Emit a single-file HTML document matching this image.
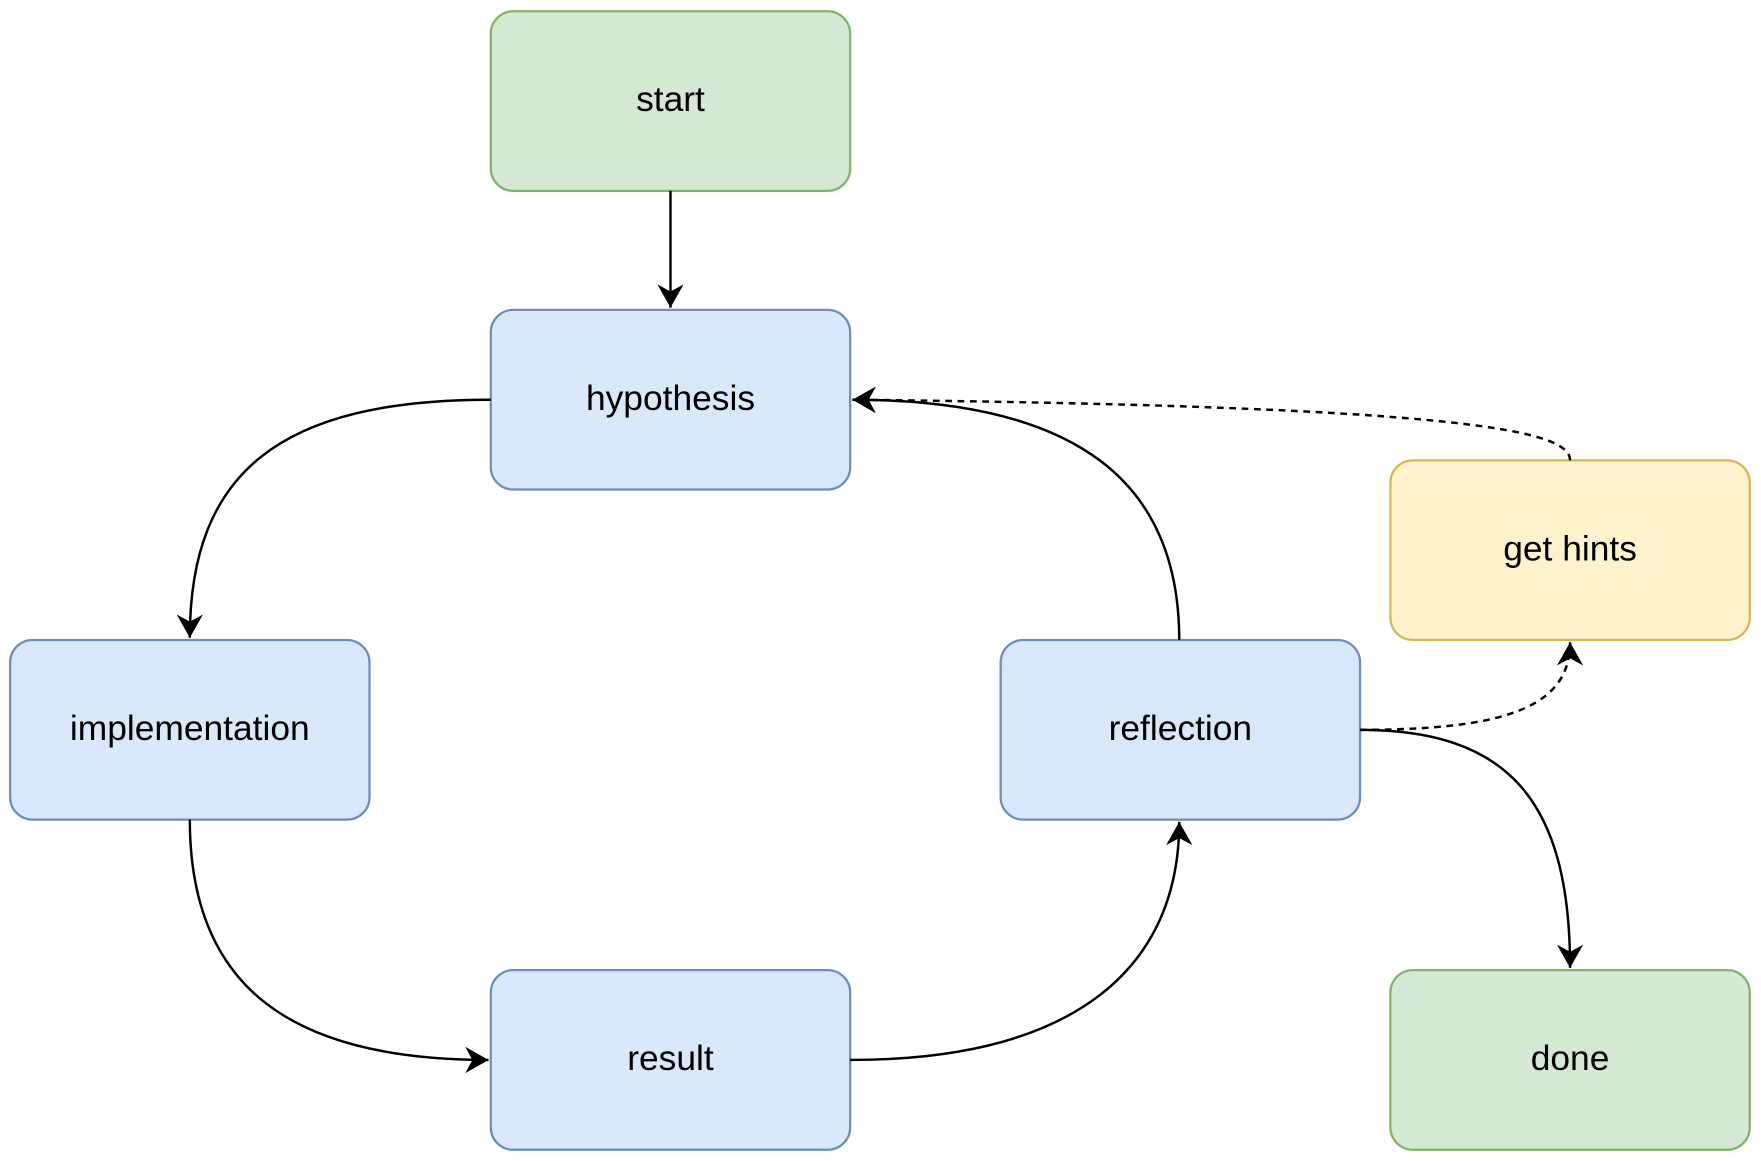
<!DOCTYPE html>
<html><head><meta charset="utf-8"><style>html,body{margin:0;padding:0;background:#fff}svg{display:block}</style></head>
<body>
<svg width="1761" height="1161" viewBox="0 0 1568 1034" preserveAspectRatio="none" xmlns="http://www.w3.org/2000/svg">
<defs>
<marker id="a" viewBox="0 0 10 10" refX="9" refY="5" markerWidth="9" markerHeight="9" markerUnits="userSpaceOnUse" orient="auto" overflow="visible">
<path d="M-14,-8 L9,5 L-14,18 L-7,5 Z" fill="#000"/>
</marker>
</defs>
<g font-family="Liberation Sans, Arial, sans-serif" font-size="31.5" text-anchor="middle" stroke-width="2">
<rect x="437" y="10" width="320" height="160" rx="20" fill="#d5e8d4" stroke="#82b366"/>
<rect x="437" y="276" width="320" height="160" rx="20" fill="#dae8fc" stroke="#6c8ebf"/>
<rect x="9" y="570" width="320" height="160" rx="20" fill="#dae8fc" stroke="#6c8ebf"/>
<rect x="891" y="570" width="320" height="160" rx="20" fill="#dae8fc" stroke="#6c8ebf"/>
<rect x="1238" y="410" width="320" height="160" rx="20" fill="#fff2cc" stroke="#d6b656"/>
<rect x="437" y="864" width="320" height="160" rx="20" fill="#dae8fc" stroke="#6c8ebf"/>
<rect x="1238" y="864" width="320" height="160" rx="20" fill="#d5e8d4" stroke="#82b366"/>
<g fill="#000" stroke="none">
<text x="597" y="99">start</text>
<text x="597" y="365">hypothesis</text>
<text x="169" y="659">implementation</text>
<text x="1051" y="659">reflection</text>
<text x="1398" y="499">get hints</text>
<text x="597" y="953">result</text>
<text x="1398" y="953">done</text>
</g>
<g fill="none" stroke="#000" stroke-width="2.2">
<path d="M597,170 L597,274" marker-end="url(#a)"/>
<path d="M437,356 C250,356 169,420 169,568" marker-end="url(#a)"/>
<path d="M169,730 C169,880 260,944 435,944" marker-end="url(#a)"/>
<path d="M757,944 C960,944 1050,860 1050,732" marker-end="url(#a)"/>
<path d="M1050,570 C1050,430 960,356 759,356" marker-end="url(#a)"/>
<path d="M1211,650 C1340,650 1398,710 1398,862" marker-end="url(#a)"/>
<path d="M1211,650 C1340,650 1398,630 1398,572" stroke-dasharray="6,5" marker-end="url(#a)"/>
<path d="M1398,410 C1398,385 1320,362 759,356" stroke-dasharray="6,5" marker-end="url(#a)"/>
</g>
</g>
</svg>
</body></html>
